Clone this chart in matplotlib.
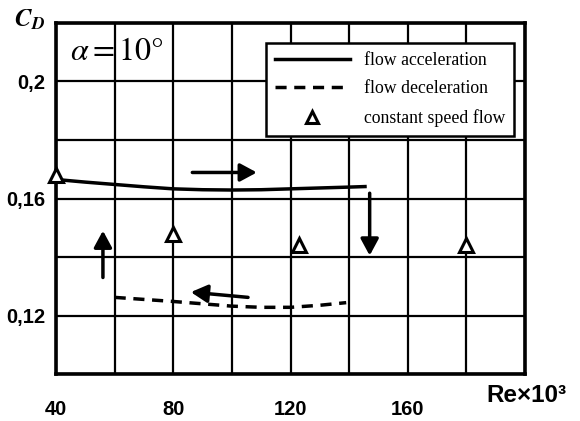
import matplotlib
matplotlib.use('Agg')
import matplotlib.pyplot as plt
from matplotlib.lines import Line2D

# flow acceleration (solid)
acc_re = [40, 50, 60, 70, 80, 90, 100, 110, 120, 130, 140, 146]
acc_cd = [0.1665, 0.1656, 0.1648, 0.1640, 0.1633, 0.1630, 0.1629, 0.1630, 0.1633, 0.1636, 0.1639, 0.1641]

# flow deceleration (dashed)
dec_re = [60, 70, 80, 90, 100, 110, 120, 130, 139]
dec_cd = [0.1262, 0.1255, 0.1248, 0.1240, 0.1232, 0.1228, 0.1228, 0.1235, 0.1244]

# constant speed flow (triangles)
const_re = [40, 80, 123, 180]
const_cd = [0.168, 0.148, 0.144, 0.144]

xticks = [40, 80, 120, 160]
xticklabels = ['40', '80', '120', '160']
yticks = [0.12, 0.16, 0.20]
yticklabels = ['0,12', '0,16', '0,2']

# arrows: (start, end) in data coords
arrows = [((86.5, 0.1689), (108.5, 0.1689)),
          ((147, 0.1618), (147, 0.1405)),
          ((105.5, 0.1262), (86, 0.1280)),
          ((56, 0.1330), (56, 0.1490))]

plt.rcParams['mathtext.fontset'] = 'stix'

fig = plt.figure(figsize=(5.8, 4.21), dpi=100)
ax = fig.add_axes([0.0966, 0.1116, 0.8086, 0.8338])

ax.plot(acc_re, acc_cd, color='k', lw=2.5, solid_capstyle='butt')
ax.plot(dec_re, dec_cd, color='k', lw=2.5, ls=(0, (3.2, 2.2)))
ax.plot(const_re, const_cd, ls='none', marker='^', markersize=10,
        markerfacecolor='white', markeredgecolor='k', markeredgewidth=2.2,
        clip_on=False, zorder=5)

for (x0, y0), (x1, y1) in arrows:
    ax.annotate('', xy=(x1, y1), xytext=(x0, y0),
                arrowprops=dict(arrowstyle='-|>,head_length=0.5,head_width=0.27',
                                lw=2.5, color='k', shrinkA=0, shrinkB=0,
                                mutation_scale=20))

ax.set_xlim(40, 200)
ax.set_ylim(0.10, 0.22)
ax.set_xticks(range(40, 201, 20), minor=True)
ax.set_yticks([0.10, 0.12, 0.14, 0.16, 0.18, 0.20, 0.22], minor=True)
ax.set_xticks(xticks)
ax.set_xticklabels(xticklabels)
ax.set_yticks(yticks)
ax.set_yticklabels(yticklabels)
ax.grid(True, which='both', color='k', lw=1.6)
ax.set_axisbelow(True)
ax.tick_params(which='both', length=0)
ax.tick_params(axis='x', pad=19)
ax.tick_params(axis='y', pad=8)
for lab in ax.get_xticklabels() + ax.get_yticklabels():
    lab.set_fontfamily('Liberation Sans')
    lab.set_fontweight('bold')
    lab.set_fontsize(14.5)
for sp in ax.spines.values():
    sp.set_linewidth(2.6)

ax.text(0.03, 0.92, r'$\alpha = 10°$', transform=ax.transAxes,
        fontsize=23, ha='left', va='center')

fig.text(0.025, 0.953, r'$\mathbfit{C}_{\mathbfit{D}}$', fontsize=18,
         ha='left', va='center')
fig.text(0.838, 0.06, 'Re×10³', fontfamily='Liberation Sans',
         fontweight='bold', fontsize=17.5, ha='left', va='center')

handles = [Line2D([], [], color='k', lw=2.5),
           Line2D([], [], color='k', lw=2.5, ls=(0, (3.2, 2.2))),
           Line2D([], [], ls='none', marker='^', markersize=9,
                  markerfacecolor='white', markeredgecolor='k', markeredgewidth=2.2)]
leg = ax.legend(handles, ['flow acceleration', 'flow deceleration', 'constant speed flow'],
                loc='upper right', bbox_to_anchor=(0.9765, 0.943),
                prop={'family': 'Liberation Serif', 'size': 12.8},
                fancybox=False, framealpha=1, edgecolor='k',
                handlelength=4.2, handletextpad=0.8, borderpad=0.5,
                labelspacing=0.65, borderaxespad=0)
leg.get_frame().set_linewidth(1.8)

fig.savefig('out.png', dpi=100)
